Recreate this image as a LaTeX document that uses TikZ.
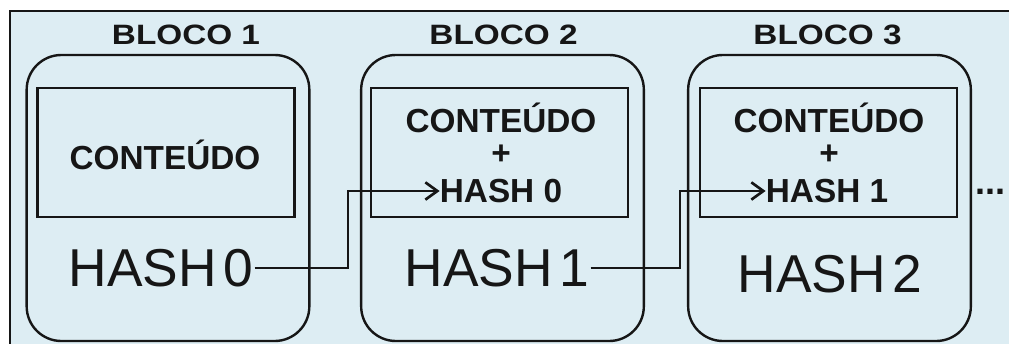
\documentclass[tikz,border=0pt]{standalone}
\usepackage{fontspec}
\setmainfont{Liberation Sans}
\usetikzlibrary{arrows.meta}
\definecolor{panel}{RGB}{221,237,243}
\definecolor{ink}{RGB}{22,22,22}
\newcommand{\widetitle}[1]{\scalebox{1.19}[1]{#1}}

\begin{document}
\begin{tikzpicture}[x=0.75pt,y=-0.75pt,
  block/.style={draw=ink, line width=1.8pt, rounded corners=26pt,
                minimum width=212pt, minimum height=214.5pt, inner sep=0pt},
  content/.style={draw=ink, line width=1.8pt,
                  minimum width=193pt, minimum height=97pt, inner sep=0pt},
  title/.style={font=\bfseries\fontsize{21pt}{24pt}\selectfont, text=ink, inner sep=0pt},
  bigtxt/.style={font=\bfseries\fontsize{25pt}{28pt}\selectfont, text=ink, inner sep=0pt},
  hashtxt/.style={font=\fontsize{40pt}{44pt}\selectfont, text=ink, inner sep=1pt},
  link/.style={draw=ink, line width=2pt, -{Straight Barb[length=9pt,width=13pt,line width=2pt]}}]

% page and panel
\useasboundingbox (0,0) rectangle (1009,343);
\clip (0,0) rectangle (1009,343);
\fill[white] (0,0) rectangle (1009,343);
\draw[fill=panel, draw=ink, line width=1.8pt] (10,11) rectangle (1040,370);

% block titles
\node[title] (t1) at (186,35)   {\widetitle{BLOCO 1}};
\node[title] (t2) at (503.5,35) {\widetitle{BLOCO 2}};
\node[title] (t3) at (827.5,35) {\widetitle{BLOCO 3}};

% block outlines
\node[block] (b1) at (168,198)   {};
\node[block] (b2) at (502.5,198) {};
\node[block] (b3) at (829.5,198) {};

% content boxes
\node[content] (c1) at (166,152.5)   {};
\node[content] (c2) at (499.5,152.5) {};
\node[content] (c3) at (828.5,152.5) {};

% block 1 content
\node[bigtxt] (k1) at (165,155) {CONTEÚDO};

% block 2 content
\node[bigtxt] (k2) at (501,118) {CONTEÚDO};
\node[bigtxt] (p2) at (501,155) {+};
\node[bigtxt] (in2) at (501,191) {HASH 0};

% block 3 content
\node[bigtxt] (k3) at (829,118) {CONTEÚDO};
\node[bigtxt] (p3) at (829,155) {+};
\node[bigtxt] (in3) at (827,191) {HASH 1};

% block hashes
\node[hashtxt] (h0) at (161,268) {HASH\hspace{0.12em}0};
\node[hashtxt] (h1) at (497,268) {HASH\hspace{0.12em}1};
\node[hashtxt] (h2) at (830,274) {HASH\hspace{0.12em}2};

% continuation mark
\node[font=\bfseries\fontsize{27pt}{30pt}\selectfont, text=ink, inner sep=0pt] (more) at (990,192) {...};

% hash links
\coordinate (j1) at (348,191);
\coordinate (j2) at (680,191);
\draw[link] (h0.east) -| (j1) -- (in2.west);
\draw[link] (h1.east) -| (j2) -- (in3.west);
\end{tikzpicture}
\end{document}
